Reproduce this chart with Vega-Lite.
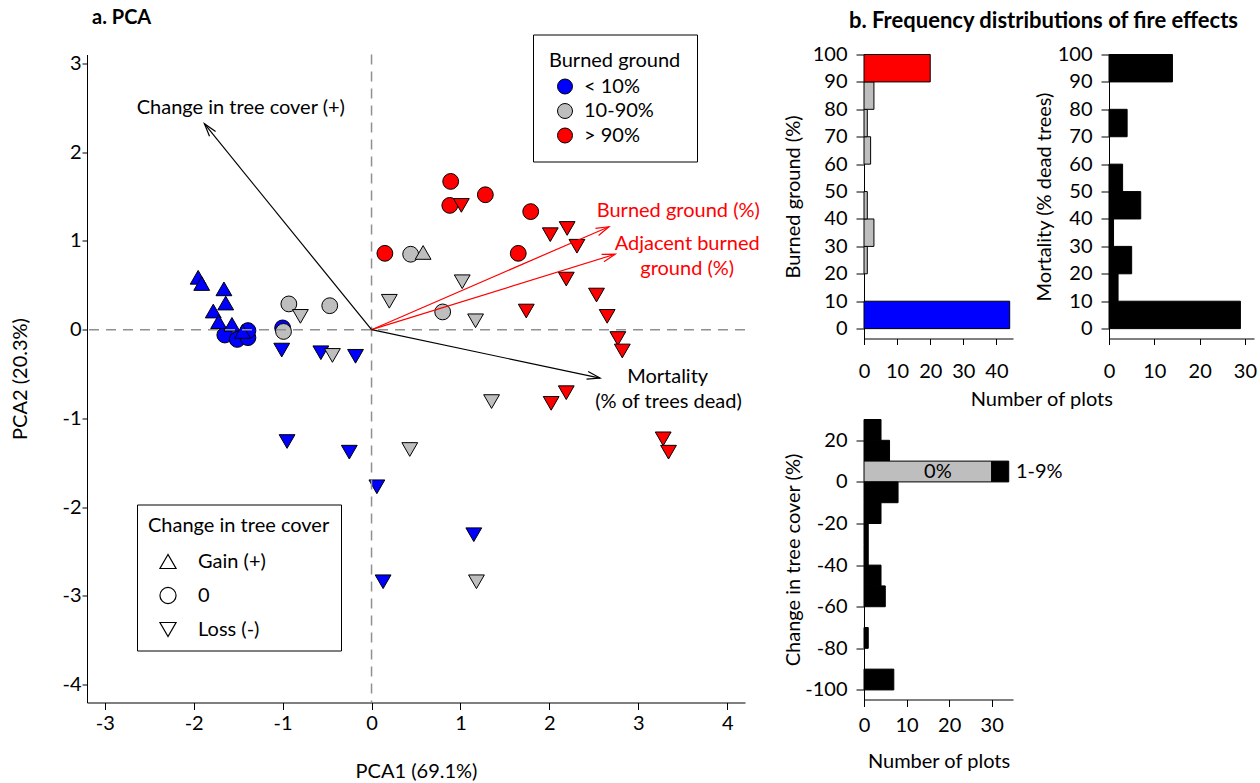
{
  "$schema": "https://vega.github.io/schema/vega-lite/v6.json",
  "background": "white",
  "padding": {"left": 10, "top": 7.5, "right": 0, "bottom": 0},
  "spacing": 23,
  "bounds": "full",
  "resolve": {"scale": {"fill": "independent", "shape": "independent", "color": "independent"}, "legend": {"fill": "independent", "shape": "independent", "color": "independent"}},
  "datasets": {
    "pts": [
      {"pc1": -1.65, "pc2": -0.06, "burned": "< 10%", "tree": "0"},
      {"pc1": -1.51, "pc2": -0.11, "burned": "< 10%", "tree": "0"},
      {"pc1": -1.39, "pc2": -0.09, "burned": "< 10%", "tree": "0"},
      {"pc1": -1.39, "pc2": -0.01, "burned": "< 10%", "tree": "0"},
      {"pc1": -1.00, "pc2": 0.02, "burned": "< 10%", "tree": "0"},
      {"pc1": -0.93, "pc2": 0.29, "burned": "10-90%", "tree": "0"},
      {"pc1": -0.99, "pc2": -0.02, "burned": "10-90%", "tree": "0"},
      {"pc1": -0.47, "pc2": 0.27, "burned": "10-90%", "tree": "0"},
      {"pc1": 0.44, "pc2": 0.85, "burned": "10-90%", "tree": "0"},
      {"pc1": 0.80, "pc2": 0.20, "burned": "10-90%", "tree": "0"},
      {"pc1": 0.89, "pc2": 1.67, "burned": "> 90%", "tree": "0"},
      {"pc1": 0.88, "pc2": 1.40, "burned": "> 90%", "tree": "0"},
      {"pc1": 1.28, "pc2": 1.52, "burned": "> 90%", "tree": "0"},
      {"pc1": 1.79, "pc2": 1.33, "burned": "> 90%", "tree": "0"},
      {"pc1": 0.15, "pc2": 0.86, "burned": "> 90%", "tree": "0"},
      {"pc1": 1.65, "pc2": 0.86, "burned": "> 90%", "tree": "0"},
      {"pc1": -1.95, "pc2": 0.59, "burned": "< 10%", "tree": "Gain (+)"},
      {"pc1": -1.91, "pc2": 0.52, "burned": "< 10%", "tree": "Gain (+)"},
      {"pc1": -1.66, "pc2": 0.46, "burned": "< 10%", "tree": "Gain (+)"},
      {"pc1": -1.64, "pc2": 0.30, "burned": "< 10%", "tree": "Gain (+)"},
      {"pc1": -1.78, "pc2": 0.21, "burned": "< 10%", "tree": "Gain (+)"},
      {"pc1": -1.72, "pc2": 0.09, "burned": "< 10%", "tree": "Gain (+)"},
      {"pc1": -1.57, "pc2": 0.06, "burned": "< 10%", "tree": "Gain (+)"},
      {"pc1": -1.45, "pc2": -0.02, "burned": "< 10%", "tree": "Gain (+)"},
      {"pc1": 0.58, "pc2": 0.87, "burned": "10-90%", "tree": "Gain (+)"},
      {"pc1": -1.01, "pc2": -0.23, "burned": "< 10%", "tree": "Loss (-)"},
      {"pc1": -0.57, "pc2": -0.26, "burned": "< 10%", "tree": "Loss (-)"},
      {"pc1": -0.18, "pc2": -0.30, "burned": "< 10%", "tree": "Loss (-)"},
      {"pc1": -0.95, "pc2": -1.26, "burned": "< 10%", "tree": "Loss (-)"},
      {"pc1": -0.25, "pc2": -1.38, "burned": "< 10%", "tree": "Loss (-)"},
      {"pc1": 0.06, "pc2": -1.77, "burned": "< 10%", "tree": "Loss (-)"},
      {"pc1": 1.15, "pc2": -2.31, "burned": "< 10%", "tree": "Loss (-)"},
      {"pc1": 0.13, "pc2": -2.84, "burned": "< 10%", "tree": "Loss (-)"},
      {"pc1": -0.80, "pc2": 0.15, "burned": "10-90%", "tree": "Loss (-)"},
      {"pc1": -0.44, "pc2": -0.29, "burned": "10-90%", "tree": "Loss (-)"},
      {"pc1": 1.35, "pc2": -0.81, "burned": "10-90%", "tree": "Loss (-)"},
      {"pc1": 0.43, "pc2": -1.35, "burned": "10-90%", "tree": "Loss (-)"},
      {"pc1": 1.18, "pc2": -2.84, "burned": "10-90%", "tree": "Loss (-)"},
      {"pc1": 1.02, "pc2": 0.54, "burned": "10-90%", "tree": "Loss (-)"},
      {"pc1": 0.20, "pc2": 0.32, "burned": "10-90%", "tree": "Loss (-)"},
      {"pc1": 1.17, "pc2": 0.10, "burned": "10-90%", "tree": "Loss (-)"},
      {"pc1": 1.01, "pc2": 1.40, "burned": "> 90%", "tree": "Loss (-)"},
      {"pc1": 2.01, "pc2": 1.07, "burned": "> 90%", "tree": "Loss (-)"},
      {"pc1": 2.20, "pc2": 1.14, "burned": "> 90%", "tree": "Loss (-)"},
      {"pc1": 2.31, "pc2": 0.94, "burned": "> 90%", "tree": "Loss (-)"},
      {"pc1": 2.19, "pc2": 0.57, "burned": "> 90%", "tree": "Loss (-)"},
      {"pc1": 1.74, "pc2": 0.21, "burned": "> 90%", "tree": "Loss (-)"},
      {"pc1": 2.53, "pc2": 0.39, "burned": "> 90%", "tree": "Loss (-)"},
      {"pc1": 2.65, "pc2": 0.15, "burned": "> 90%", "tree": "Loss (-)"},
      {"pc1": 2.77, "pc2": -0.10, "burned": "> 90%", "tree": "Loss (-)"},
      {"pc1": 2.82, "pc2": -0.24, "burned": "> 90%", "tree": "Loss (-)"},
      {"pc1": 3.28, "pc2": -1.23, "burned": "> 90%", "tree": "Loss (-)"},
      {"pc1": 3.34, "pc2": -1.38, "burned": "> 90%", "tree": "Loss (-)"},
      {"pc1": 2.02, "pc2": -0.83, "burned": "> 90%", "tree": "Loss (-)"},
      {"pc1": 2.19, "pc2": -0.71, "burned": "> 90%", "tree": "Loss (-)"}
    ],
    "arrows": [
      {"var": "Change in tree cover", "pc1": -1.88, "pc2": 2.32, "kind": "veg"},
      {"var": "Burned ground", "pc1": 2.67, "pc2": 1.16, "kind": "fire"},
      {"var": "Adjacent burned ground", "pc1": 2.74, "pc2": 0.85, "kind": "fire"},
      {"var": "Mortality", "pc1": 2.57, "pc2": -0.545, "kind": "veg"}
    ],
    "alabels": [
      {"label": "Change in tree cover (+)", "pc1": -1.47, "pc2": 2.50, "kind": "veg"},
      {"label": "Burned ground (%)", "pc1": 3.45, "pc2": 1.34, "kind": "fire"},
      {"label": "Adjacent burned", "pc1": 3.55, "pc2": 0.96, "kind": "fire"},
      {"label": "ground (%)", "pc1": 3.55, "pc2": 0.68, "kind": "fire"},
      {"label": "Mortality", "pc1": 3.33, "pc2": -0.53, "kind": "veg"},
      {"label": "(% of trees dead)", "pc1": 3.34, "pc2": -0.81, "kind": "veg"}
    ],
    "burnedHist": [
      {"lo": 0, "hi": 10, "n": 44, "cls": "< 10%"},
      {"lo": 20, "hi": 30, "n": 1, "cls": "10-90%"},
      {"lo": 30, "hi": 40, "n": 3, "cls": "10-90%"},
      {"lo": 40, "hi": 50, "n": 1, "cls": "10-90%"},
      {"lo": 60, "hi": 70, "n": 2, "cls": "10-90%"},
      {"lo": 70, "hi": 80, "n": 1, "cls": "10-90%"},
      {"lo": 80, "hi": 90, "n": 3, "cls": "10-90%"},
      {"lo": 90, "hi": 100, "n": 20, "cls": "> 90%"}
    ],
    "mortHist": [
      {"lo": 0, "hi": 10, "n": 29},
      {"lo": 10, "hi": 20, "n": 2},
      {"lo": 20, "hi": 30, "n": 5},
      {"lo": 30, "hi": 40, "n": 1},
      {"lo": 40, "hi": 50, "n": 7},
      {"lo": 50, "hi": 60, "n": 3},
      {"lo": 70, "hi": 80, "n": 4},
      {"lo": 90, "hi": 100, "n": 14}
    ],
    "treeHist": [
      {"lo": 20, "hi": 30, "n": 4, "cls": "change"},
      {"lo": 10, "hi": 20, "n": 6, "cls": "change"},
      {"lo": 0, "hi": 10, "n": 30, "cls": "0%"},
      {"lo": 0, "hi": 10, "n": 4, "cls": "change"},
      {"lo": -10, "hi": 0, "n": 8, "cls": "change"},
      {"lo": -20, "hi": -10, "n": 4, "cls": "change"},
      {"lo": -30, "hi": -20, "n": 1, "cls": "change"},
      {"lo": -40, "hi": -30, "n": 1, "cls": "change"},
      {"lo": -50, "hi": -40, "n": 4, "cls": "change"},
      {"lo": -60, "hi": -50, "n": 5, "cls": "change"},
      {"lo": -80, "hi": -70, "n": 1, "cls": "change"},
      {"lo": -100, "hi": -90, "n": 7, "cls": "change"}
    ],
    "treeLabels": [
      {"t": "0%", "cnt": 14.1, "val": 5},
      {"t": "1-9%", "cnt": 35.7, "val": 5}
    ]
  },
  "hconcat": [
    {
      "width": 658,
      "height": 648,
      "title": {"text": "a. PCA", "anchor": "start", "offset": 6, "dx": 82, "fontSize": 20},
      "layer": [
        {
          "data": {"name": "pts"},
          "mark": {"type": "point", "filled": true, "stroke": "black", "strokeWidth": 1, "size": 250, "opacity": 1},
          "encoding": {
            "x": {"field": "pc1", "type": "quantitative",
              "scale": {"domain": [-3.2, 4.2], "nice": false, "zero": false},
              "axis": {"title": "PCA1 (69.1%)", "values": [-3, -2, -1, 0, 1, 2, 3, 4], "format": "d", "tickSize": 7, "labelPadding": 3.5, "minExtent": 31.5, "maxExtent": 31.5, "titlePadding": 27, "labelExpr": "replace(datum.label, '\u2212', '-')"}},
            "y": {"field": "pc2", "type": "quantitative",
              "scale": {"domain": [-4.2, 3.1], "nice": false, "zero": false},
              "axis": {"title": "PCA2 (20.3%)", "values": [-4, -3, -2, -1, 0, 1, 2, 3], "format": "d", "tickSize": 5, "labelPadding": 1, "minExtent": 28, "maxExtent": 28, "titlePadding": 29, "labelExpr": "replace(datum.label, '\u2212', '-')"}},
            "fill": {"field": "burned", "type": "nominal",
              "scale": {"domain": ["< 10%", "10-90%", "> 90%"], "range": ["#0000ff", "#bebebe", "#ff0000"]},
              "legend": {"title": "Burned ground", "orient": "none", "legendX": 446, "legendY": -20, "direction": "vertical", "padding": 16, "strokeColor": "black", "fillColor": "white", "titlePadding": 6, "rowPadding": 4.5, "symbolOffset": 6, "labelOffset": 9, "symbolSize": 225, "symbolType": "circle", "symbolStrokeColor": "black", "symbolStrokeWidth": 1, "symbolOpacity": 1, "titleLimit": 400}},
            "shape": {"field": "tree", "type": "nominal",
              "scale": {"domain": ["Gain (+)", "0", "Loss (-)"], "range": ["triangle-up", "circle", "triangle-down"]},
              "legend": {"title": "Change in tree cover", "orient": "none", "legendX": 50, "legendY": 450, "direction": "vertical", "padding": 11, "strokeColor": "black", "fillColor": "white", "titlePadding": 16, "rowPadding": 13, "symbolOffset": 10, "labelOffset": 20, "symbolSize": 260, "symbolFillColor": "white", "symbolStrokeColor": "black", "symbolStrokeWidth": 1.2, "titleLimit": 400,
                "encode": {"symbols": {"update": {"fill": {"value": "white"}, "stroke": {"value": "black"}, "opacity": {"value": 1}}}}}}
          }
        },
        {
          "data": {"values": [{}]},
          "mark": {"type": "rule", "strokeDash": [10, 7], "color": "#909090", "strokeWidth": 1.5},
          "encoding": {"x": {"datum": 0, "type": "quantitative"}}
        },
        {
          "data": {"values": [{}]},
          "mark": {"type": "rule", "strokeDash": [10, 7], "color": "#909090", "strokeWidth": 1.5},
          "encoding": {"y": {"datum": 0, "type": "quantitative"}}
        },
        {
          "data": {"name": "arrows"},
          "mark": {"type": "rule", "strokeWidth": 1.2},
          "encoding": {
            "x": {"field": "pc1", "type": "quantitative", "scale": {"domain": [-3.2, 4.2], "nice": false, "zero": false}},
            "y": {"field": "pc2", "type": "quantitative", "scale": {"domain": [-4.2, 3.1], "nice": false, "zero": false}},
            "x2": {"datum": 0},
            "y2": {"datum": 0},
            "color": {"field": "kind", "type": "nominal", "scale": {"domain": ["veg", "fire"], "range": ["black", "#ff0000"]}, "legend": null}
          }
        },
        {
          "data": {"name": "arrows"},
          "transform": [{"calculate": "atan2(-datum.pc2, datum.pc1) * 180 / PI", "as": "ang"}],
          "mark": {"type": "point", "shape": "M-1,-0.3L0,0L-1,0.3", "filled": false, "strokeWidth": 1.2, "size": 676, "opacity": 1},
          "encoding": {
            "x": {"field": "pc1", "type": "quantitative", "scale": {"domain": [-3.2, 4.2], "nice": false, "zero": false}},
            "y": {"field": "pc2", "type": "quantitative", "scale": {"domain": [-4.2, 3.1], "nice": false, "zero": false}},
            "angle": {"field": "ang", "type": "quantitative", "scale": null},
            "color": {"field": "kind", "type": "nominal", "scale": {"domain": ["veg", "fire"], "range": ["black", "#ff0000"]}, "legend": null}
          }
        },
        {
          "data": {"name": "alabels"},
          "mark": {"type": "text", "fontSize": 20, "font": "Lato", "align": "center", "baseline": "middle"},
          "encoding": {
            "x": {"field": "pc1", "type": "quantitative", "scale": {"domain": [-3.2, 4.2], "nice": false, "zero": false}},
            "y": {"field": "pc2", "type": "quantitative", "scale": {"domain": [-4.2, 3.1], "nice": false, "zero": false}},
            "text": {"field": "label"},
            "color": {"field": "kind", "type": "nominal", "scale": {"domain": ["veg", "fire"], "range": ["black", "#ff0000"]}, "legend": null}
          }
        }
      ]
    },
    {
      "title": {"text": "b. Frequency distributions of fire effects", "anchor": "start", "offset": 12, "dx": 66, "frame": "bounds", "fontSize": 22},
      "spacing": 8,
      "bounds": "full",
      "resolve": {"scale": {"fill": "independent"}, "legend": {"fill": "independent"}},
      "vconcat": [
        {
          "title": {"text": "Number of plots", "orient": "bottom", "anchor": "middle", "offset": 8.7, "dx": 22, "fontWeight": "normal", "fontSize": 20, "frame": "bounds"},
          "spacing": 21,
          "bounds": "full",
          "hconcat": [
            {
              "width": 149,
              "height": 284,
              "data": {"name": "burnedHist"},
              "mark": {"type": "bar", "stroke": "black", "strokeWidth": 1},
              "encoding": {
                "x": {"field": "n", "type": "quantitative", "scale": {"domain": [0, 45], "nice": false},
                  "axis": {"title": null, "values": [0, 10, 20, 30, 40], "tickSize": 6, "labelPadding": 16.6}},
                "x2": {"datum": 0},
                "y": {"field": "lo", "type": "quantitative", "scale": {"domain": [-3.6, 100], "nice": false, "zero": false},
                  "axis": {"title": "Burned ground (%)", "values": [0, 10, 20, 30, 40, 50, 60, 70, 80, 90, 100], "tickSize": 8, "labelPadding": 9, "minExtent": 52, "maxExtent": 52, "titlePadding": 9}},
                "y2": {"field": "hi"},
                "fill": {"field": "cls", "type": "nominal", "scale": {"domain": ["< 10%", "10-90%", "> 90%"], "range": ["#0000ff", "#bebebe", "#ff0000"]}, "legend": null}
              }
            },
            {
              "width": 145,
              "height": 284,
              "data": {"name": "mortHist"},
              "mark": {"type": "bar", "stroke": "black", "strokeWidth": 1, "fill": "black"},
              "encoding": {
                "x": {"field": "n", "type": "quantitative", "scale": {"domain": [0, 32], "nice": false},
                  "axis": {"title": null, "values": [0, 10, 20, 30], "tickSize": 6, "labelPadding": 16.6}},
                "x2": {"datum": 0},
                "y": {"field": "lo", "type": "quantitative", "scale": {"domain": [-3.6, 100], "nice": false, "zero": false},
                  "axis": {"title": "Mortality (% dead trees)", "values": [0, 10, 20, 30, 40, 50, 60, 70, 80, 90, 100], "tickSize": 8, "labelPadding": 9, "minExtent": 52, "maxExtent": 52, "titlePadding": 3}},
                "y2": {"field": "hi"}
              }
            }
          ]
        },
        {
          "width": 149,
          "height": 280,
          "layer": [
            {
              "data": {"name": "treeHist"},
              "transform": [{"stack": "n", "groupby": ["lo"], "sort": [{"field": "cls", "order": "ascending"}], "as": ["n0", "n1"]}],
              "mark": {"type": "bar", "stroke": "black", "strokeWidth": 1},
              "encoding": {
                "x": {"field": "n1", "type": "quantitative", "scale": {"domain": [0, 35], "nice": false},
                  "axis": {"title": "Number of plots", "values": [0, 10, 20, 30], "tickSize": 7, "labelPadding": 9, "minExtent": 36, "maxExtent": 36, "titlePadding": 16}},
                "x2": {"field": "n0"},
                "y": {"field": "lo", "type": "quantitative", "scale": {"domain": [-104.6, 30], "nice": false, "zero": false},
                  "axis": {"title": "Change in tree cover (%)", "values": [-100, -90, -80, -70, -60, -50, -40, -30, -20, -10, 0, 10, 20, 30], "tickSize": 8, "labelPadding": 9, "minExtent": 52, "maxExtent": 52, "titlePadding": 9,
                    "labelExpr": "datum.value % 20 == 0 ? replace(datum.label, '\u2212', '-') : ''"}},
                "y2": {"field": "hi"},
                "fill": {"field": "cls", "type": "nominal", "scale": {"domain": ["0%", "change"], "range": ["#bebebe", "black"]}, "legend": null}
              }
            },
            {
              "data": {"name": "treeLabels"},
              "mark": {"type": "text", "align": "left", "baseline": "middle", "fontSize": 20, "font": "Lato", "color": "black"},
              "encoding": {
                "x": {"field": "cnt", "type": "quantitative"},
                "y": {"field": "val", "type": "quantitative"},
                "text": {"field": "t"}
              }
            }
          ]
        }
      ]
    }
  ],
  "config": {
    "font": "Lato",
    "view": {"stroke": null},
    "axis": {"labelFont": "Lato", "titleFont": "Lato", "labelFontSize": 20, "titleFontSize": 20, "titleFontWeight": "normal", "labelColor": "black", "titleColor": "black", "domainColor": "black", "tickColor": "black", "domainWidth": 1, "tickWidth": 1, "grid": false, "labelFlush": false, "labelOverlap": false},
    "legend": {"labelFont": "Lato", "titleFont": "Lato", "labelFontSize": 20, "titleFontSize": 20, "titleFontWeight": "normal", "labelColor": "black", "titleColor": "black"},
    "title": {"font": "Lato", "fontSize": 19, "fontWeight": "bold", "color": "black"}
  }
}
